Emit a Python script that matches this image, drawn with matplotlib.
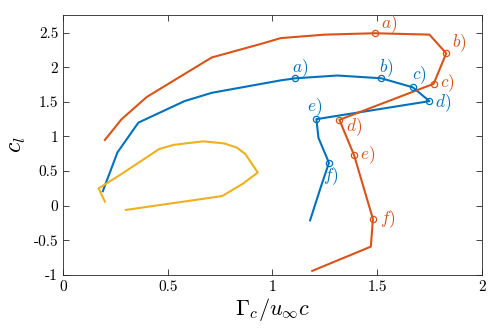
import matplotlib
matplotlib.use('Agg')
import matplotlib.pyplot as plt

plt.rcParams['font.family'] = 'serif'
plt.rcParams['font.serif'] = ['cmr10', 'DejaVu Serif']
plt.rcParams['mathtext.fontset'] = 'cm'
plt.rcParams['axes.unicode_minus'] = False

# data
orange_x = [0.20, 0.28, 0.40, 0.71, 0.95, 1.04, 1.25, 1.49, 1.75, 1.83, 1.77, 1.32, 1.39, 1.48, 1.47, 1.19]
orange_y = [0.95, 1.25, 1.57, 2.14, 2.34, 2.42, 2.47, 2.49, 2.47, 2.20, 1.76, 1.24, 0.73, -0.19, -0.59, -0.94]
orange_mark = [7, 9, 10, 11, 12, 13]

blue_x = [0.19, 0.26, 0.36, 0.58, 0.71, 1.04, 1.11, 1.31, 1.52, 1.67, 1.75, 1.21, 1.22, 1.27, 1.23, 1.18]
blue_y = [0.21, 0.77, 1.20, 1.51, 1.63, 1.81, 1.84, 1.88, 1.84, 1.71, 1.51, 1.25, 0.98, 0.62, 0.26, -0.21]
blue_mark = [6, 8, 9, 10, 11, 13]

yellow_x = [0.20, 0.17, 0.28, 0.41, 0.46, 0.53, 0.67, 0.77, 0.83, 0.87, 0.93, 0.86, 0.76, 0.30]
yellow_y = [0.06, 0.25, 0.46, 0.72, 0.82, 0.88, 0.93, 0.90, 0.84, 0.75, 0.48, 0.32, 0.14, -0.06]

letters = ['a', 'b', 'c', 'd', 'e', 'f']
# label offsets (points) from each marker
orange_off = [(4, 6.5), (4, 7.5), (4.5, 0.5), (5, -5), (4.5, 0), (5, 0)]
blue_off = [(-2.5, 7), (-1.5, 7), (-0.5, 9), (4, -1.5), (-7, 8.5), (-4, -9.5)]

c_blue = '#0072BD'
c_orange = '#D95319'
c_yellow = '#EDB120'

fig = plt.figure(figsize=(4.98, 3.31), dpi=100)
ax = fig.add_axes([0.1265, 0.169, 0.841, 0.785])

ax.plot(blue_x, blue_y, color=c_blue, lw=1.5)
ax.plot(orange_x, orange_y, color=c_orange, lw=1.5)
ax.plot(yellow_x, yellow_y, color=c_yellow, lw=1.5)

for col, xs, ys, idx, offs in [(c_orange, orange_x, orange_y, orange_mark, orange_off),
                               (c_blue, blue_x, blue_y, blue_mark, blue_off)]:
    mx = [xs[i] for i in idx]
    my = [ys[i] for i in idx]
    ax.plot(mx, my, 'o', mfc='none', mec=col, ms=4.5, mew=0.9)
    for L, x, y, o in zip(letters, mx, my, offs):
        ax.annotate('$' + L + ')$', (x, y), xytext=o, textcoords='offset points',
                    ha='left', va='center', color=col, fontsize=12.5)

ax.set_xlim(0, 2)
ax.set_ylim(-1, 2.75)
ax.set_xticks([0, 0.5, 1, 1.5, 2])
ax.set_xticklabels(['0', '0.5', '1', '1.5', '2'])
ax.set_yticks([-1, -0.5, 0, 0.5, 1, 1.5, 2, 2.5])
ax.set_yticklabels(['-1', '-0.5', '0', '0.5', '1', '1.5', '2', '2.5'])
ax.tick_params(direction='in', top=True, right=True, labelsize=11, length=4,
               color='#262626', width=0.6)
for s in ax.spines.values():
    s.set_color('#262626')
    s.set_linewidth(0.6)

ax.set_xlabel(r'$\Gamma_c/u_\infty c$', fontsize=16, labelpad=2)
ax.set_ylabel(r'$c_l$', fontsize=17, labelpad=4)

fig.savefig('out.png', dpi=100)
